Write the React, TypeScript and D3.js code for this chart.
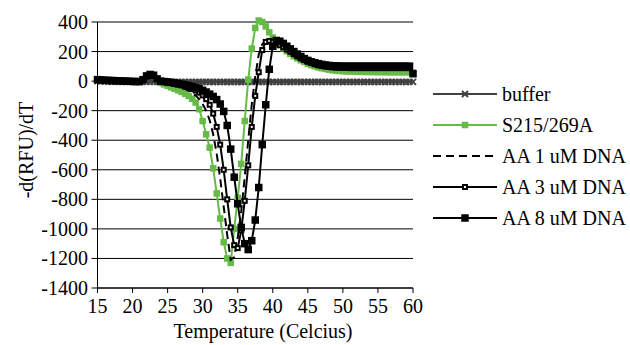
import React from 'react';
import * as d3 from 'd3';

const temps = [
  15, 15.5, 16, 16.5, 17, 17.5, 18, 18.5, 19, 19.5,
  20, 20.5, 21, 21.5, 22, 22.5, 23, 23.5, 24, 24.5,
  25, 25.5, 26, 26.5, 27, 27.5, 28, 28.5, 29, 29.5,
  30, 30.5, 31, 31.5, 32, 32.5, 33, 33.5, 34, 34.5,
  35, 35.5, 36, 36.5, 37, 37.5, 38, 38.5, 39, 39.5,
  40, 40.5, 41, 41.5, 42, 42.5, 43, 43.5, 44, 44.5,
  45, 45.5, 46, 46.5, 47, 47.5, 48, 48.5, 49, 49.5,
  50, 50.5, 51, 51.5, 52, 52.5, 53, 53.5, 54, 54.5,
  55, 55.5, 56, 56.5, 57, 57.5, 58, 58.5, 59, 59.5,
  60,
];

const buffer = [
  0, -2, -3, -3, -4, -3, -4, -4, -5, -4,
  -4, -5, -5, -4, -4, -5, -5, -4, -5, -5,
  -6, -5, -5, -6, -6, -5, -6, -6, -5, -6,
  -6, -5, -6, -6, -5, -6, -5, -6, -6, -5,
  -6, -6, -5, -5, -6, -5, -6, -5, -5, -6,
  -5, -5, -6, -5, -5, -6, -5, -5, -6, -5,
  -5, -6, -5, -5, -6, -5, -5, -6, -5, -5,
  -6, -5, -5, -6, -5, -5, -6, -5, -5, -6,
  -5, -5, -6, -5, -5, -6, -5, -5, -6, -5,
  -5,
];

const s215 = [
  10, 8, 6, 5, 4, 3, 2, 1, 0, -1,
  -2, -3, -3, 10, 35, 45, 40, 10, -12, -22,
  -32, -42, -52, -62, -73, -86, -100, -120, -145, -190,
  -270, -360, -450, -590, -760, -930, -1090, -1200, -1230, -1000,
  -790, -560, -270, 10, 220, 360, 410, 400, 370, 330,
  295, 265, 245, 222, 202, 184, 168, 154, 141, 130,
  118, 108, 100, 93, 87, 82, 78, 74, 71, 69,
  67, 66, 65, 64, 63, 63, 62, 62, 62, 61,
  61, 61, 61, 60, 60, 60, 60, 60, 60, 60,
  58,
];

const aa1 = [
  10, 8, 6, 5, 4, 3, 2, 1, 0, -1,
  -2, -3, -3, 10, 35, 45, 40, 15, 0, -8,
  -14, -20, -27, -35, -44, -54, -66, -80, -98, -122,
  -155, -200, -265, -360, -490, -660, -850, -1040, -1210, -1190,
  -1060, -880, -650, -400, -160, 30, 180, 250, 268, 262,
  255, 245, 233, 219, 204, 189, 174, 160, 147, 136,
  126, 117, 109, 103, 98, 94, 91, 89, 87, 86,
  85, 85, 84, 84, 84, 84, 84, 84, 84, 84,
  84, 84, 84, 84, 84, 84, 84, 84, 84, 84,
  58,
];

const aa3 = [
  10, 8, 6, 5, 4, 3, 2, 1, 0, -1,
  -2, -3, -3, 10, 35, 45, 40, 15, 0, -5,
  -9, -13, -18, -23, -29, -36, -44, -53, -64, -78,
  -97, -122, -160, -220, -310, -430, -600, -800, -990, -1110,
  -1130, -1010, -810, -570, -310, -100, 60, 210, 265, 272,
  265, 255, 243, 229, 214, 198, 183, 168, 154, 142,
  131, 122, 114, 107, 102, 98, 95, 93, 91, 90,
  89, 89, 88, 88, 88, 88, 88, 88, 88, 88,
  88, 88, 88, 88, 88, 88, 88, 88, 88, 88,
  55,
];

const aa8 = [
  10, 8, 6, 5, 4, 3, 2, 1, 0, -1,
  -2, -3, -3, 10, 35, 45, 40, 15, 0, -3,
  -6, -9, -13, -17, -21, -26, -31, -37, -44, -52,
  -62, -74, -88, -104, -125, -155, -205, -300, -460, -650,
  -830, -990, -1100, -1140, -1080, -940, -720, -430, -160, 80,
  235, 275, 270, 255, 236, 218, 200, 183, 167, 152,
  140, 131, 124, 118, 113, 109, 106, 104, 103, 102,
  101, 101, 101, 101, 101, 101, 101, 101, 101, 101,
  101, 101, 101, 101, 101, 101, 101, 101, 101, 101,
  50,
];

const yTicks = [400, 200, 0, -200, -400, -600, -800, -1000, -1200, -1400];
const xTicks = [15, 20, 25, 30, 35, 40, 45, 50, 55, 60];
const seriesNames = ['buffer', 'S215/269A', 'AA 1 uM DNA', 'AA 3 uM DNA', 'AA 8 uM DNA'];

const FONT = '"Liberation Serif"';
const GREEN = '#66BB46';
const GRAY = '#404040';

type MarkerKind = 'x' | 'green' | 'none' | 'hollow' | 'big';

function Marker({ kind, cx, cy }: { kind: MarkerKind; cx: number; cy: number }) {
  if (kind === 'x') {
    return (
      <path
        d={`M${cx - 3},${cy - 3}L${cx + 3},${cy + 3}M${cx - 3},${cy + 3}L${cx + 3},${cy - 3}`}
        stroke={GRAY}
        strokeWidth={2}
      />
    );
  }
  if (kind === 'green') {
    return <rect x={cx - 3.25} y={cy - 3.25} width={6.5} height={6.5} fill={GREEN} />;
  }
  if (kind === 'hollow') {
    return <rect x={cx - 2} y={cy - 2} width={4} height={4} fill="#fff" stroke="#000" strokeWidth={2} />;
  }
  if (kind === 'big') {
    return <rect x={cx - 3.75} y={cy - 3.75} width={7.5} height={7.5} fill="#000" />;
  }
  return null;
}

const textStyle = { fontFamily: FONT, fontSize: 20 };

export default function App() {
  const x = d3.scaleLinear().domain([15, 60]).range([97.5, 413]);
  const y = d3.scaleLinear().domain([-1400, 400]).range([288, 22]);

  const lineGen = d3
    .line<number>()
    .x((_, i) => x(temps[i]))
    .y((d) => y(d));

  const series: { name: string; values: number[]; color: string; dash?: string; marker: MarkerKind }[] = [
    { name: seriesNames[0], values: buffer, color: GRAY, marker: 'x' },
    { name: seriesNames[1], values: s215, color: GREEN, marker: 'green' },
    { name: seriesNames[2], values: aa1, color: '#000', dash: '8,5', marker: 'none' },
    { name: seriesNames[3], values: aa3, color: '#000', marker: 'hollow' },
    { name: seriesNames[4], values: aa8, color: '#000', marker: 'big' },
  ];

  const x0 = x.range()[0];
  const x1 = x.range()[1];
  const yBottom = y(-1400);
  const legendY = [94, 125, 156, 187, 218];

  return (
    <svg width={630} height={345} style={{ position: 'absolute', left: 0, top: 0, background: '#fff' }}>
      <rect x={0} y={0} width={630} height={345} fill="#fff" />
      {yTicks.map((t) => (
        <line key={'g' + t} x1={x0} x2={x1} y1={y(t)} y2={y(t)} stroke="#000" strokeWidth={1} />
      ))}
      <line x1={x0} x2={x0} y1={y(400)} y2={yBottom} stroke="#000" strokeWidth={1} />
      {yTicks.map((t) => (
        <line key={'yt' + t} x1={x0 - 6} x2={x0} y1={y(t)} y2={y(t)} stroke="#000" strokeWidth={1} />
      ))}
      {yTicks.map((t) => (
        <text key={'yl' + t} x={88} y={y(t) + 7} style={textStyle} textAnchor="end" fill="#000">
          {t}
        </text>
      ))}
      <line x1={x0} x2={x1} y1={yBottom} y2={yBottom} stroke="#000" strokeWidth={1} />
      {xTicks.map((t) => (
        <line key={'xt' + t} x1={x(t)} x2={x(t)} y1={yBottom} y2={yBottom + 5} stroke="#000" strokeWidth={1} />
      ))}
      {xTicks.map((t) => (
        <text key={'xl' + t} x={x(t)} y={313} style={textStyle} textAnchor="middle" fill="#000">
          {t}
        </text>
      ))}
      <text x={263} y={338} style={textStyle} textAnchor="middle" fill="#000">
        Temperature (Celcius)
      </text>
      <text transform="translate(33,150) rotate(-90)" style={textStyle} textAnchor="middle" fill="#000">
        -d(RFU)/dT
      </text>
      {series.map((s) => (
        <g key={s.name}>
          <path
            d={lineGen(s.values) || ''}
            fill="none"
            stroke={s.color}
            strokeWidth={2}
            strokeDasharray={s.dash}
          />
          {s.marker !== 'none' &&
            s.values.map((v, i) => <Marker key={i} kind={s.marker} cx={x(temps[i])} cy={y(v)} />)}
        </g>
      ))}
      {series.map((s, i) => (
        <g key={'lg' + s.name}>
          <line
            x1={433}
            x2={497}
            y1={legendY[i]}
            y2={legendY[i]}
            stroke={s.color}
            strokeWidth={2}
            strokeDasharray={s.dash}
          />
          <Marker kind={s.marker} cx={465} cy={legendY[i]} />
          <text x={502} y={legendY[i] + 7} style={textStyle} fill="#000">
            {s.name}
          </text>
        </g>
      ))}
    </svg>
  );
}
